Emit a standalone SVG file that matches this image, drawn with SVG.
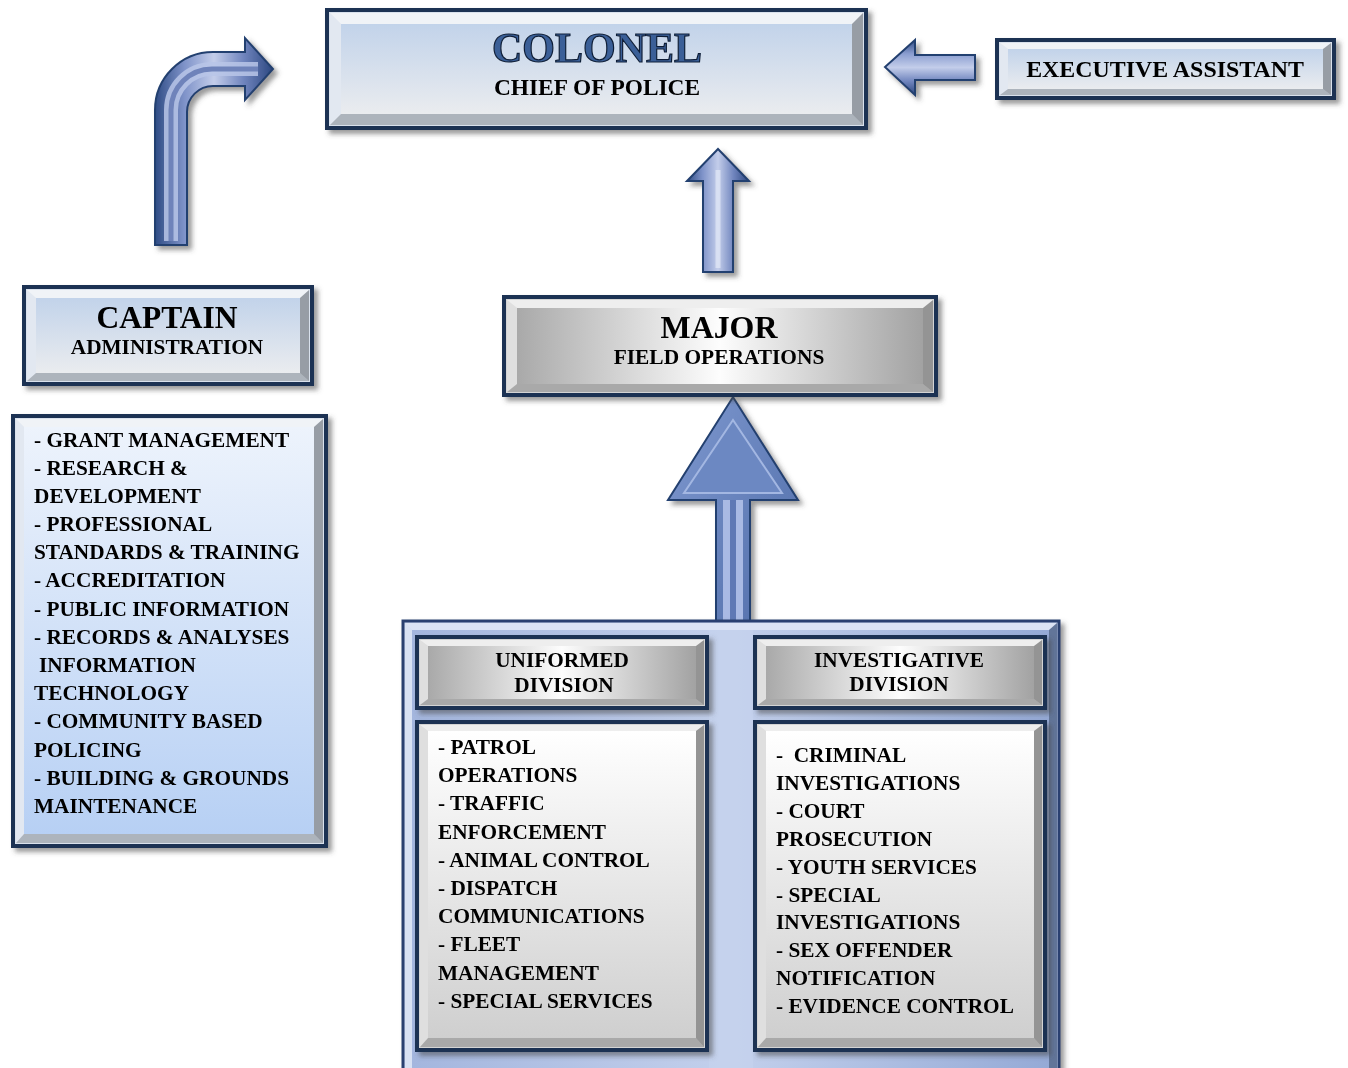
<svg xmlns="http://www.w3.org/2000/svg" width="1348" height="1068" viewBox="0 0 1348 1068">
<defs>
<filter id="sh" x="-10%" y="-10%" width="125%" height="130%">
<feDropShadow dx="4" dy="4" stdDeviation="2.5" flood-color="#4a4a4a" flood-opacity="0.55"/>
</filter>
<linearGradient id="faceB" x1="0" y1="0" x2="0" y2="1">
<stop offset="0" stop-color="#c2d3ea"/><stop offset="1" stop-color="#eaecef"/>
</linearGradient>
<linearGradient id="faceL" x1="0" y1="0" x2="0" y2="1">
<stop offset="0" stop-color="#edf3fc"/><stop offset="1" stop-color="#b7d0f4"/>
</linearGradient>
<linearGradient id="faceS" x1="0" y1="0" x2="1" y2="0">
<stop offset="0" stop-color="#a9a9a9"/><stop offset="0.5" stop-color="#fdfdfd"/><stop offset="1" stop-color="#a2a2a2"/>
</linearGradient>
<linearGradient id="faceSV" x1="0" y1="0" x2="0" y2="1">
<stop offset="0" stop-color="#ffffff"/><stop offset="1" stop-color="#cfcfcf"/>
</linearGradient>
<linearGradient id="cont" x1="0" y1="0" x2="1" y2="0">
<stop offset="0" stop-color="#a4b6de"/><stop offset="0.5" stop-color="#c3d0ec"/><stop offset="1" stop-color="#95aad6"/>
</linearGradient>
<linearGradient id="arrV" x1="0" y1="0" x2="1" y2="0">
<stop offset="0" stop-color="#2f4c85"/><stop offset="0.25" stop-color="#7f93c9"/><stop offset="0.5" stop-color="#c3cdea"/><stop offset="0.75" stop-color="#7085be"/><stop offset="1" stop-color="#2c4780"/>
</linearGradient>
<linearGradient id="arrH" x1="0" y1="0" x2="0" y2="1">
<stop offset="0" stop-color="#2f4c85"/><stop offset="0.25" stop-color="#8a9dd0"/><stop offset="0.5" stop-color="#c3cdea"/><stop offset="0.75" stop-color="#7085be"/><stop offset="1" stop-color="#2c4780"/>
</linearGradient>
<linearGradient id="bigHead" x1="0" y1="0" x2="1" y2="1">
<stop offset="0" stop-color="#7f99d0"/><stop offset="1" stop-color="#4f6ca8"/>
</linearGradient>
</defs>
<style>
.ob{stroke:#1e3352;stroke-width:4}
.fb{fill:#d9e1ec}
.fs{fill:#d4d4d4}
.bt{fill:#ffffff;fill-opacity:0.6}
.bl{fill:#ffffff;fill-opacity:0.25}
.br{fill:#000000;fill-opacity:0.3}
.bb{fill:#000000;fill-opacity:0.2}
.t{font-family:"Liberation Serif","Times New Roman",serif;font-weight:bold;fill:#000}
.c{text-anchor:middle}
.arr{stroke:#24406f;stroke-width:2;stroke-linejoin:miter}
</style>

<g id="connectors">
<path class="arr" fill="url(#arrV)" d="M155,245 L155,110 A58,58 0 0 1 213,52 L245,52 L245,38 L273,69 L245,100 L245,86 L213,86 A26,26 0 0 0 187,112 L187,245 Z" filter="url(#sh)"/>
<path d="M171,241 L171,110 A41,41 0 0 1 212,69 L258,69" fill="none" stroke="#b9c5e8" stroke-width="14" stroke-opacity="0.85"/>
<path d="M171,241 L171,110 A41,41 0 0 1 212,69 L258,69" fill="none" stroke="#6f83ba" stroke-width="5"/>
<path class="arr" fill="url(#arrH)" d="M975,55 L915,55 L915,40 L885,67 L915,95 L915,80 L975,80 Z" filter="url(#sh)"/>
<path class="arr" fill="url(#arrV)" d="M703,272 L703,181 L687,181 L718,149 L749,181 L733,181 L733,272 Z" filter="url(#sh)"/>
<path d="M718,268 L718,170" stroke="#e3e8f6" stroke-width="5" stroke-opacity="0.7"/>
<path class="arr" fill="url(#bigHead)" stroke="#34528c" d="M716,630 L716,500 L668,500 L733,397 L798,500 L750,500 L750,630 Z" filter="url(#sh)"/>
<path d="M733,420 L684,493 L782,493 Z" fill="#6c88c2" stroke="#a3b7e2" stroke-width="2"/>
<rect x="723" y="500" width="20" height="128" fill="#a9bae4"/>
<rect x="730" y="500" width="6" height="128" fill="#5f79b5"/>
</g>

<g id="colonel" filter="url(#sh)">
<rect class="ob fb" x="327" y="10" width="539" height="118"/>
<rect x="341" y="24" width="511" height="90" fill="url(#faceB)"/>
<polygon class="bt" points="330,13 863,13 852,24 341,24"/>
<polygon class="bl" points="330,13 341,24 341,114 330,125"/>
<polygon class="br" points="863,13 852,24 852,114 863,125"/>
<polygon class="bb" points="330,125 863,125 852,114 341,114"/>
<text class="t c" x="597" y="62" font-size="42" stroke="#0f1e36" stroke-width="1.2" style="fill:#3a5f97">COLONEL</text>
<text class="t c" x="597" y="95" font-size="23.4">CHIEF OF POLICE</text>
</g>

<g id="executive-assistant" filter="url(#sh)">
<rect class="ob fb" x="997" y="40" width="337" height="58"/>
<rect x="1008" y="49" width="315" height="40" fill="url(#faceB)"/>
<polygon class="bt" points="1000,43 1331,43 1323,49 1008,49"/>
<polygon class="bl" points="1000,43 1008,49 1008,89 1000,95"/>
<polygon class="br" points="1331,43 1323,49 1323,89 1331,95"/>
<polygon class="bb" points="1000,95 1331,95 1323,89 1008,89"/>
<text class="t c" x="1165" y="77" font-size="23.9">EXECUTIVE ASSISTANT</text>
</g>

<g id="captain" filter="url(#sh)">
<rect class="ob fb" x="24" y="287" width="288" height="97"/>
<rect x="36" y="298" width="264" height="75" fill="url(#faceB)"/>
<polygon class="bt" points="27,290 309,290 300,298 36,298"/>
<polygon class="bl" points="27,290 36,298 36,373 27,381"/>
<polygon class="br" points="309,290 300,298 300,373 309,381"/>
<polygon class="bb" points="27,381 309,381 300,373 36,373"/>
<text class="t c" x="167" y="328" font-size="31.5">CAPTAIN</text>
<text class="t c" x="167" y="354" font-size="21.3">ADMINISTRATION</text>
</g>

<g id="admin-list" filter="url(#sh)">
<rect class="ob fb" x="13" y="416" width="313" height="430"/>
<rect x="24" y="427" width="290" height="407" fill="url(#faceL)"/>
<polygon class="bt" points="16,419 323,419 314,427 24,427"/>
<polygon class="bl" points="16,419 24,427 24,834 16,843"/>
<polygon class="br" points="323,419 314,427 314,834 323,843"/>
<polygon class="bb" points="16,843 323,843 314,834 24,834"/>
<g class="t" font-size="21.3">
<text x="34" y="447">- GRANT MANAGEMENT</text>
<text x="34" y="475">- RESEARCH &amp;</text>
<text x="34" y="503">DEVELOPMENT</text>
<text x="34" y="531">- PROFESSIONAL</text>
<text x="34" y="559">STANDARDS &amp; TRAINING</text>
<text x="34" y="587">- ACCREDITATION</text>
<text x="34" y="616">- PUBLIC INFORMATION</text>
<text x="34" y="644">- RECORDS &amp; ANALYSES</text>
<text x="39" y="672">INFORMATION</text>
<text x="34" y="700">TECHNOLOGY</text>
<text x="34" y="728">- COMMUNITY BASED</text>
<text x="34" y="757">POLICING</text>
<text x="34" y="785">- BUILDING &amp; GROUNDS</text>
<text x="34" y="813">MAINTENANCE</text>
</g>
</g>

<g id="major" filter="url(#sh)">
<rect class="ob fs" x="504" y="297" width="432" height="98"/>
<rect x="517" y="308" width="406" height="76" fill="url(#faceS)"/>
<polygon class="bt" points="507,300 933,300 923,308 517,308"/>
<polygon class="bl" points="507,300 517,308 517,384 507,392"/>
<polygon class="br" points="933,300 923,308 923,384 933,392"/>
<polygon class="bb" points="507,392 933,392 923,384 517,384"/>
<text class="t c" x="719" y="338" font-size="31.9">MAJOR</text>
<text class="t c" x="719" y="364" font-size="21.4">FIELD OPERATIONS</text>
</g>

<g id="divisions-container" filter="url(#sh)">
<rect x="403" y="621" width="656" height="450" fill="#c8d4ee" stroke="#2a4170" stroke-width="3"/>
<rect x="412" y="630" width="637" height="440" fill="url(#cont)"/>
<polygon points="405,623 1057,623 1049,630 412,630" fill="#ffffff" fill-opacity="0.35"/>
<polygon points="1057,623 1049,630 1049,1070 1057,1070" fill="#1e3560" fill-opacity="0.6"/>
<polygon points="405,623 412,630 412,1070 405,1070" fill="#ffffff" fill-opacity="0.3"/>
<rect x="709" y="630" width="44" height="440" fill="#c7d3ee" fill-opacity="0.6"/>
</g>

<g id="uniformed-division" filter="url(#sh)">
<rect class="ob fs" x="417" y="637" width="290" height="71"/>
<rect x="428" y="646" width="268" height="53" fill="url(#faceS)"/>
<polygon class="bt" points="420,640 704,640 696,646 428,646"/>
<polygon class="bl" points="420,640 428,646 428,699 420,705"/>
<polygon class="br" points="704,640 696,646 696,699 704,705"/>
<polygon class="bb" points="420,705 704,705 696,699 428,699"/>
<text class="t c" x="562" y="667" font-size="21.3">UNIFORMED</text>
<text class="t c" x="564" y="692" font-size="21.3">DIVISION</text>
</g>

<g id="investigative-division" filter="url(#sh)">
<rect class="ob fs" x="755" y="637" width="290" height="71"/>
<rect x="766" y="646" width="268" height="53" fill="url(#faceS)"/>
<polygon class="bt" points="758,640 1042,640 1034,646 766,646"/>
<polygon class="bl" points="758,640 766,646 766,699 758,705"/>
<polygon class="br" points="1042,640 1034,646 1034,699 1042,705"/>
<polygon class="bb" points="758,705 1042,705 1034,699 766,699"/>
<text class="t c" x="899" y="667" font-size="21.3">INVESTIGATIVE</text>
<text class="t c" x="899" y="691" font-size="21.3">DIVISION</text>
</g>

<g id="uniformed-list" filter="url(#sh)">
<rect class="ob fs" x="417" y="722" width="290" height="328"/>
<rect x="428" y="731" width="268" height="307" fill="url(#faceSV)"/>
<polygon class="bt" points="420,725 704,725 696,731 428,731"/>
<polygon class="bl" points="420,725 428,731 428,1038 420,1047"/>
<polygon class="br" points="704,725 696,731 696,1038 704,1047"/>
<polygon class="bb" points="420,1047 704,1047 696,1038 428,1038"/>
<g class="t" font-size="21.3">
<text x="438" y="754">- PATROL</text>
<text x="438" y="782">OPERATIONS</text>
<text x="438" y="810">- TRAFFIC</text>
<text x="438" y="839">ENFORCEMENT</text>
<text x="438" y="867">- ANIMAL CONTROL</text>
<text x="438" y="895">- DISPATCH</text>
<text x="438" y="923">COMMUNICATIONS</text>
<text x="438" y="951">- FLEET</text>
<text x="438" y="980">MANAGEMENT</text>
<text x="438" y="1008">- SPECIAL SERVICES</text>
</g>
</g>

<g id="investigative-list" filter="url(#sh)">
<rect class="ob fs" x="755" y="722" width="290" height="328"/>
<rect x="766" y="731" width="268" height="307" fill="url(#faceSV)"/>
<polygon class="bt" points="758,725 1042,725 1034,731 766,731"/>
<polygon class="bl" points="758,725 766,731 766,1038 758,1047"/>
<polygon class="br" points="1042,725 1034,731 1034,1038 1042,1047"/>
<polygon class="bb" points="758,1047 1042,1047 1034,1038 766,1038"/>
<g class="t" font-size="21.3">
<text x="776" y="762">-&#160; CRIMINAL</text>
<text x="776" y="790">INVESTIGATIONS</text>
<text x="776" y="818">- COURT</text>
<text x="776" y="846">PROSECUTION</text>
<text x="776" y="874">- YOUTH SERVICES</text>
<text x="776" y="902">- SPECIAL</text>
<text x="776" y="929">INVESTIGATIONS</text>
<text x="776" y="957">- SEX OFFENDER</text>
<text x="776" y="985">NOTIFICATION</text>
<text x="776" y="1013">- EVIDENCE CONTROL</text>
</g>
</g>
</svg>
